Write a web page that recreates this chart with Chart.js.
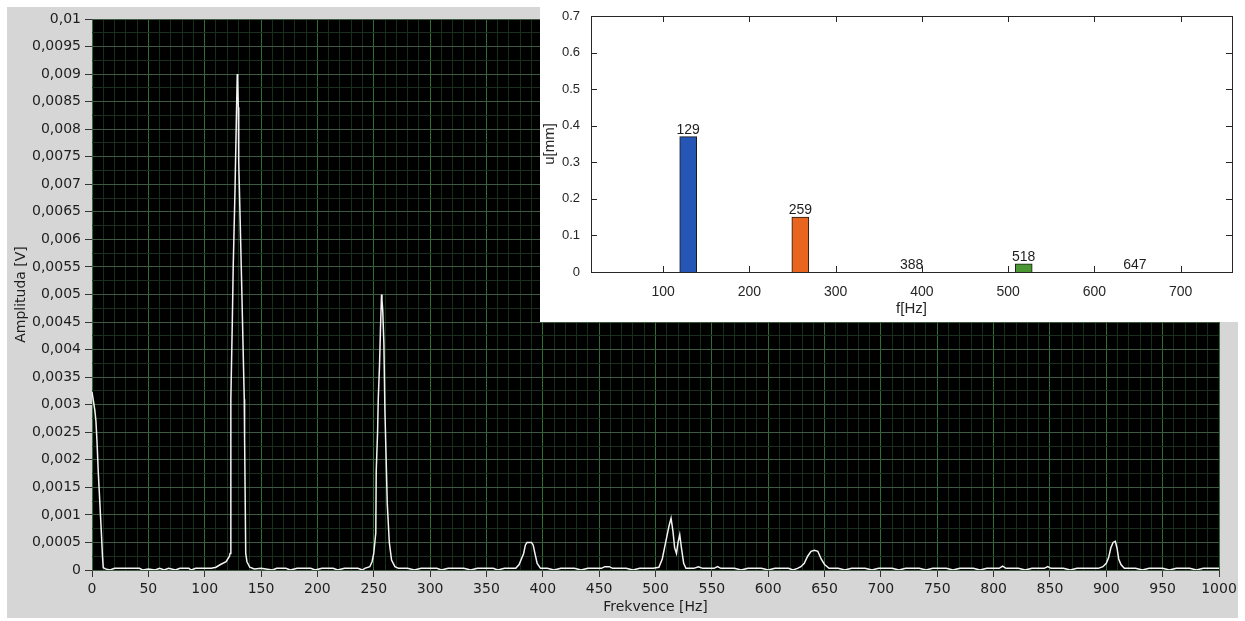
<!DOCTYPE html>
<html>
<head>
<meta charset="utf-8">
<script src="https://cdn.jsdelivr.net/npm/chart.js@4.4.1/dist/chart.umd.min.js"></script>
<style>
  html, body { margin: 0; padding: 0; background: #fff; }
  #wrap { position: relative; width: 1245px; height: 621px; }
  #spectrum { position: absolute; left: 0; top: 0; }
  #inset { position: absolute; left: 540px; top: 0; width: 705px; height: 322px; background: #fff; }
</style>
</head>
<body>
<div id="wrap">
  <canvas id="spectrum" width="1245" height="621"></canvas>
  <div id="inset"><canvas id="bars" width="705" height="322"></canvas></div>
</div>
<script>
// spectrum (Hz / V)
var freqHz = [
  0, 1, 2.5, 3.5, 4.5, 5.5, 6.5, 7.5, 8.5, 9.3, 10, 12, 16, 20, 30, 42, 45, 50, 56, 60, 64, 68, 74, 78, 86, 88, 92,
  106, 110, 114, 119, 122, 122.5, 123.2, 124.5, 125.3, 126.9, 128.2, 128.9, 129.3, 129.8, 130.2, 131.4, 132.9,
  134.1, 135.1, 135.4, 136.4, 137.5, 140, 144, 150, 160, 164, 172, 176, 182, 194, 198, 204, 214, 218, 224, 236,
  240, 242, 246.5, 248.5, 250, 251.8, 252.2, 253.4, 254, 255.1, 256, 256.9, 257.3, 258, 259, 259.9, 262, 263.8,
  265.8, 268.8, 272, 280, 286, 292, 306, 310, 316, 330, 336, 342, 356, 360, 366, 376, 379, 381, 383, 384.5, 386,
  390, 391.5, 393, 395, 398, 404, 410, 416, 428, 434, 440, 452, 455, 459, 462, 474, 480, 486, 498, 503, 506, 508,
  510, 512, 513.8, 515.5, 517, 518.6, 520, 521.5, 523, 525, 527, 534, 538, 542, 552, 555, 558, 570, 576, 582, 594,
  600, 606, 618, 622, 626, 629, 632, 635, 638, 641, 644, 647, 650, 654, 662, 668, 674, 686, 692, 698, 710, 716,
  722, 734, 740, 746, 758, 764, 770, 782, 788, 794, 805, 808, 811, 822, 828, 834, 845, 848, 851, 862, 868, 874,
  886, 893, 897, 900, 902, 904, 906, 908, 909.5, 911, 913, 916, 926, 932, 938, 950, 956, 962, 974, 980, 986, 1000
];
var amplV = [
  0.00323, 0.0031, 0.0029, 0.0027, 0.0023, 0.0018, 0.0014, 0.0010, 0.0006, 0.00025, 0.00004, 0.00002, 0, 0.00003,
  0.00003, 0.00003, 0, 0.00002, 0, 0.00003, 0, 0.00003, 0, 0.00003, 0.00003, 0, 0.00003,
  0.00003, 0.00005, 0.0001, 0.00015, 0.00025, 0.0003, 0.0031, 0.0045, 0.0055, 0.0069, 0.0083, 0.0090, 0.0089,
  0.0084, 0.0074, 0.0064, 0.0051,
  0.0040, 0.0031, 0.0024, 0.0003, 0.00015, 0.00005, 0.00002, 0.00003, 0, 0.00003, 0.00003, 0, 0.00003, 0.00003,
  0, 0.00003, 0.00003, 0, 0.00003, 0.00003,
  0, 0.00003, 0.00006, 0.00015, 0.0003, 0.00067, 0.0018, 0.0025, 0.0031, 0.0037, 0.0044, 0.0050, 0.0049, 0.0047,
  0.0041, 0.0029, 0.0012, 0.0005,
  0.00018, 0.00006, 0.00003, 0.00003, 0, 0.00003, 0.00003, 0, 0.00003, 0.00003, 0, 0.00003, 0.00003, 0, 0.00003,
  0.00003, 0.0001, 0.0002, 0.0003, 0.00045, 0.0005,
  0.0005, 0.00045, 0.0003, 0.00012, 0.00003, 0.00003, 0, 0.00003, 0.00003, 0, 0.00003, 0.00003, 0.00006, 0.00006,
  0.00003, 0.00003, 0, 0.00003, 0.00003, 0.00005, 0.0002, 0.0004,
  0.0006, 0.0008, 0.00094, 0.0007, 0.0004, 0.0003, 0.0005, 0.00064, 0.0004, 0.00012, 0.00003, 0.00003, 0.00006,
  0.00003, 0.00003, 0.00006, 0.00003, 0.00003, 0, 0.00003, 0.00003,
  0, 0.00003, 0.00003, 0, 0.00003, 0.00006, 0.00012, 0.00025, 0.00034, 0.00036, 0.00034, 0.0002, 0.0001, 0.00003,
  0.00003, 0, 0.00003, 0.00003, 0, 0.00003, 0.00003, 0,
  0.00003, 0.00003, 0, 0.00003, 0.00003, 0, 0.00003, 0.00003, 0, 0.00003, 0.00003, 0.00007, 0.00003, 0.00003, 0,
  0.00003, 0.00003, 0.00006, 0.00003, 0.00003, 0, 0.00003,
  0.00003, 0.00003, 0.00006, 0.00012, 0.00022, 0.0004, 0.0005, 0.00052, 0.0004, 0.0002, 0.0001, 0.00003, 0.00003,
  0, 0.00003, 0.00003, 0, 0.00003, 0.00003, 0, 0.00003, 0.00003
];

// inset (MATLAB bar chart)
var barFreq = [129, 259, 388, 518, 647];
var barAmp = [0.37, 0.15, 0, 0.022, 0];
var barColors = ["#2555b5", "#e8651f", "#2555b5", "#4a9633", "#2555b5"];
var insetXTicks = [100, 200, 300, 400, 500, 600, 700];
var insetYTicks = [0, 0.1, 0.2, 0.3, 0.4, 0.5, 0.6, 0.7];

function fmtComma(v) {
  return String(parseFloat(v.toFixed(5))).replace(".", ",");
}

const labviewFrame = {
  id: "labviewFrame",
  beforeDraw(chart) {
    const c = chart.ctx;
    const a = chart.chartArea;
    c.save();
    c.fillStyle = "#ffffff";
    c.fillRect(0, 0, chart.width, chart.height);
    c.fillStyle = "#d6d6d6";
    c.fillRect(7, 7, 1231, 611);
    c.fillStyle = "#000000";
    c.fillRect(a.left, a.top, a.right - a.left, a.bottom - a.top);
    c.restore();
  },
};

function initSpectrum() {
  const ctx = document.getElementById("spectrum").getContext("2d");
  new Chart(ctx, {
    type: "line",
    data: {
      datasets: [
        {
          data: freqHz.map((f, i) => ({ x: f, y: amplV[i] })),
          borderColor: "#f4f4f4",
          borderWidth: 1.5,
          pointRadius: 0,
          tension: 0,
          fill: false,
        },
      ],
    },
    options: {
      responsive: false,
      animation: false,
      devicePixelRatio: 1,
      layout: { padding: { top: 19, right: 26, left: 0, bottom: 0 } },
      plugins: { legend: { display: false }, tooltip: { enabled: false } },
      scales: {
        x: {
          type: "linear",
          min: 0,
          max: 1000,
          border: { display: false },
          grid: {
            color: (c) => (c.index % 5 === 0 ? "#2e6e30" : "#143018"),
            tickColor: (c) => (c.index % 5 === 0 ? "#333" : "rgba(0,0,0,0)"),
            tickLength: 7,
          },
          ticks: {
            stepSize: 10,
            autoSkip: false,
            maxRotation: 0,
            padding: 4,
            color: "#1e1e1e",
            font: { family: "DejaVu Sans", size: 14 },
            callback: (v, i) => (i % 5 === 0 ? String(v) : ""),
          },
          title: {
            display: true,
            text: "Frekvence [Hz]",
            color: "#1e1e1e",
            font: { family: "DejaVu Sans", size: 14 },
            padding: { top: 0, bottom: 5 },
          },
          afterFit: (s) => {
            s.height = 51;
          },
        },
        y: {
          type: "linear",
          min: 0,
          max: 0.01,
          border: { display: false },
          grid: {
            color: (c) => (c.index % 2 === 0 ? "#3f5a42" : "#1c2e1f"),
            tickColor: (c) => (c.index % 2 === 0 ? "#333" : "rgba(0,0,0,0)"),
            tickLength: 7,
          },
          ticks: {
            stepSize: 0.00025,
            autoSkip: false,
            padding: 4,
            color: "#1e1e1e",
            font: { family: "DejaVu Sans", size: 14 },
            callback: (v, i) => (i % 2 === 0 ? fmtComma(v) : ""),
          },
          title: {
            display: true,
            text: "Amplituda [V]",
            color: "#1e1e1e",
            font: { family: "DejaVu Sans", size: 14 },
            padding: { top: 13, bottom: 0 },
          },
          afterFit: (s) => {
            s.width = 92;
          },
        },
      },
    },
    plugins: [labviewFrame],
  });
}

const matlabBox = {
  id: "matlabBox",
  afterDraw(chart) {
    const c = chart.ctx;
    const a = chart.chartArea;
    const xs = chart.scales.x;
    const ys = chart.scales.y;
    c.save();
    c.strokeStyle = "#262626";
    c.lineWidth = 1;
    c.strokeRect(Math.round(a.left) + 0.5, Math.round(a.top) + 0.5, Math.round(a.right - a.left), Math.round(a.bottom - a.top));
    c.beginPath();
    insetXTicks.forEach((t) => {
      const px = Math.round(xs.getPixelForValue(t)) + 0.5;
      c.moveTo(px, a.bottom);
      c.lineTo(px, a.bottom - 6);
      c.moveTo(px, a.top);
      c.lineTo(px, a.top + 6);
    });
    insetYTicks.forEach((t) => {
      const py = Math.round(ys.getPixelForValue(t)) + 0.5;
      c.moveTo(a.left, py);
      c.lineTo(a.left + 6, py);
      c.moveTo(a.right, py);
      c.lineTo(a.right - 6, py);
    });
    c.stroke();
    c.restore();
  },
  afterDatasetsDraw(chart) {
    const c = chart.ctx;
    const meta = chart.getDatasetMeta(0);
    c.save();
    c.fillStyle = "#1e1e1e";
    c.font = "14px 'Liberation Sans'";
    c.textAlign = "center";
    c.textBaseline = "alphabetic";
    meta.data.forEach((bar, i) => {
      c.fillText(String(barFreq[i]), bar.x, bar.y - 3);
    });
    c.restore();
  },
};

function initInset() {
  const ctx = document.getElementById("bars").getContext("2d");
  new Chart(ctx, {
    type: "bar",
    data: {
      datasets: [
        {
          data: barFreq.map((f, i) => ({ x: f, y: barAmp[i] })),
          backgroundColor: barColors,
          borderColor: "#1a1a1a",
          borderWidth: 1,
          barThickness: 17,
        },
      ],
    },
    options: {
      responsive: false,
      animation: false,
      devicePixelRatio: 1,
      layout: { padding: { top: 16, right: 13, left: 0, bottom: 0 } },
      plugins: { legend: { display: false }, tooltip: { enabled: false } },
      scales: {
        x: {
          type: "linear",
          min: 16.3,
          max: 759.5,
          offset: false,
          border: { display: false },
          grid: { display: false, offset: false },
          afterBuildTicks: (s) => {
            s.ticks = insetXTicks.map((v) => ({ value: v }));
          },
          ticks: {
            padding: 4,
            color: "#262626",
            font: { family: "Liberation Sans", size: 14 },
            callback: (v) => String(v),
          },
          title: {
            display: true,
            text: "f[Hz]",
            color: "#262626",
            font: { family: "Liberation Sans", size: 15 },
            padding: { top: 0, bottom: 4 },
          },
          afterFit: (s) => {
            s.height = 50;
          },
        },
        y: {
          type: "linear",
          min: 0,
          max: 0.7,
          border: { display: false },
          grid: { display: false },
          afterBuildTicks: (s) => {
            s.ticks = insetYTicks.map((v) => ({ value: v }));
          },
          ticks: {
            padding: 3,
            color: "#262626",
            font: { family: "Liberation Sans", size: 13 },
            callback: (v) => String(parseFloat(v.toFixed(2))),
          },
          title: {
            display: true,
            text: "u[mm]",
            color: "#262626",
            font: { family: "Liberation Sans", size: 15 },
            padding: { top: 1, bottom: 0 },
          },
          afterFit: (s) => {
            s.width = 51;
          },
        },
      },
    },
    plugins: [matlabBox],
  });
}

initSpectrum();
initInset();
</script>
</body>
</html>
